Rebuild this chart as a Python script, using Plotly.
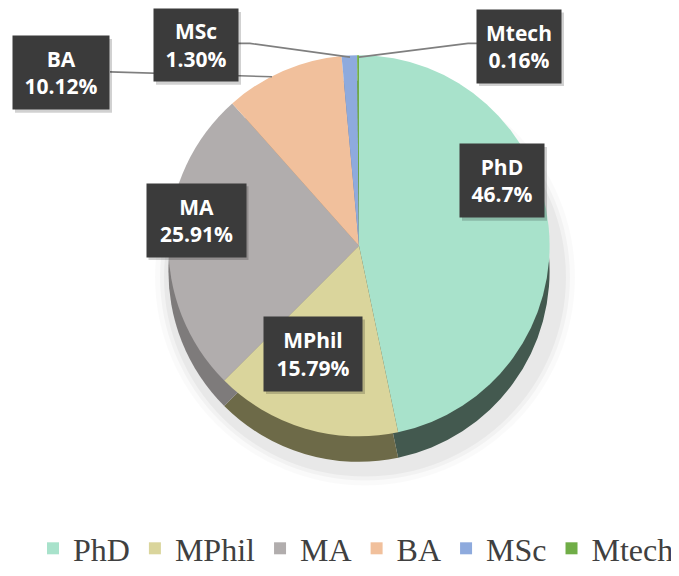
import plotly.graph_objects as go

# ---- data ----
labels = ["PhD", "MPhil", "MA", "BA", "MSc", "Mtech"]
values = [46.70, 15.79, 25.91, 10.12, 1.30, 0.16]
label_texts = ["46.7%", "15.79%", "25.91%", "10.12%", "1.30%", "0.16%"]

top_colors = ["#A8E2CB", "#DAD59C", "#B1ADAD", "#F1C09C", "#8EAADD", "#70AD47"]
side_colors = ["#43594F", "#6D6A48", "#7E7B7B", "#A98768", "#63779B", "#4E7932"]

# the page body has an 8px margin: figure coords = window coords - 8
OFF = 8
W, H = 671, 568
cx, cy, r, depth = 359, 250, 194, 26


def px(x):
    return (x - OFF) / W


def py(y):
    return 1 - (y - OFF) / H


fig = go.Figure()

# side / depth of the 3D pie
fig.add_trace(go.Pie(
    labels=labels, values=values, sort=False, direction="clockwise", rotation=0,
    marker=dict(colors=side_colors, line=dict(width=0)),
    textinfo="none", hoverinfo="skip", showlegend=False,
    domain=dict(x=[px(cx - r), px(cx + r)], y=[py(cy + r + depth), py(cy - r + depth)]),
))
# top face
fig.add_trace(go.Pie(
    labels=labels, values=values, sort=False, direction="clockwise", rotation=0,
    marker=dict(colors=top_colors, line=dict(width=0)),
    textinfo="none", hoverinfo="label+percent",
    domain=dict(x=[px(cx - r), px(cx + r)], y=[py(cy + r), py(cy - r)]),
))

shapes = []
# soft shadow beneath the pie
for k, a in [(14, 0.02), (9, 0.03), (5, 0.04)]:
    shapes.append(dict(type="circle", xref="paper", yref="paper", layer="below",
                       x0=px(cx - r + 4 - k), x1=px(cx + r + 8 + k),
                       y0=py(cy + r + depth + 10 + k), y1=py(cy - r + depth + 2 - k),
                       fillcolor=f"rgba(0,0,0,{a})", line=dict(width=0)))

# leader lines (window pixel positions)
leaders = [
    [(110, 73), (272, 78)],
    [(238, 44), (250, 44), (350, 58)],
    [(478, 44), (468, 44), (359, 58)],
]
for pts in leaders:
    path = "M " + " L ".join(f"{px(x)},{py(y)}" for x, y in pts)
    shapes.append(dict(type="path", xref="paper", yref="paper", path=path,
                       line=dict(color="#7F7F7F", width=1.6), layer="above"))

# label boxes: (center x, center y, width, height) in window pixels
boxes = {
    "PhD": (502, 184, 84, 73),
    "MPhil": (313, 360, 98, 74),
    "MA": (196, 224, 99, 73),
    "BA": (61, 74, 96, 73),
    "MSc": (196, 46, 84, 72),
    "Mtech": (519, 47, 84, 73),
}
# box shadows
for lab, (bx, by, bw, bh) in boxes.items():
    shapes.append(dict(type="rect", xref="paper", yref="paper", layer="above",
                       x0=px(bx - bw / 2 + 2), x1=px(bx + bw / 2 + 3),
                       y0=py(by + bh / 2 + 4), y1=py(by - bh / 2 + 2),
                       fillcolor="rgba(0,0,0,0.18)", line=dict(width=0)))

annotations = []
for lab, txt in zip(labels, label_texts):
    bx, by, bw, bh = boxes[lab]
    annotations.append(dict(
        x=px(bx), y=py(by), xref="paper", yref="paper",
        xanchor="center", yanchor="middle",
        text=f"<b>{lab}</b><br><b>{txt}</b>", showarrow=False,
        width=bw, height=bh, bgcolor="#3B3B3B", borderpad=0,
        font=dict(family="Open Sans", size=21, color="#FFFFFF"),
        align="center", valign="middle",
    ))

fig.update_layout(
    width=W, height=H,
    margin=dict(l=0, r=0, t=0, b=0),
    paper_bgcolor="#FFFFFF", plot_bgcolor="#FFFFFF",
    shapes=shapes, annotations=annotations,
    showlegend=True,
    legend=dict(orientation="h", x=px(364), xanchor="center", y=-0.018, yanchor="bottom",
                font=dict(family="Liberation Serif", size=32, color="#404040"),
                itemclick=False, itemdoubleclick=False),
)

fig.write_html("out.html")
